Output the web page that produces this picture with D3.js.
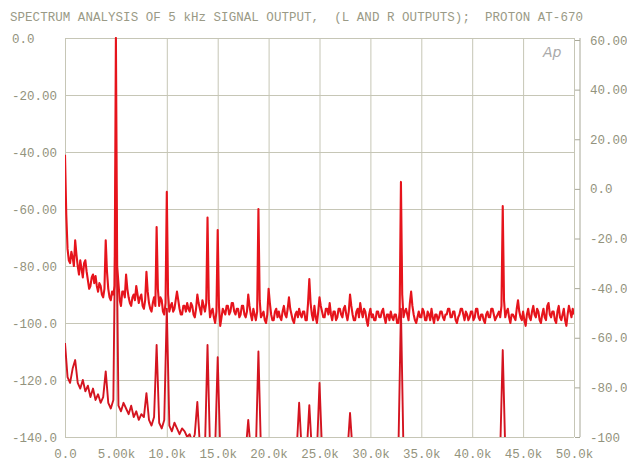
<!DOCTYPE html>
<html><head><meta charset="utf-8">
<script src="https://cdn.jsdelivr.net/npm/d3@7"></script>
<style>
body{margin:0;background:#fff;}
svg text{font-family:"Liberation Mono","DejaVu Sans Mono",monospace;white-space:pre;}
</style></head>
<body><svg id="c" width="627" height="464"></svg>
<script>
const title = "SPECTRUM ANALYSIS OF 5 kHz SIGNAL OUTPUT,  (L AND R OUTPUTS);  PROTON AT-670";
const upperStepHz = 125;
const lowerStepHz = 250;
// Upper trace (dB, left axis), 0..50 kHz every 125 Hz (one row per kHz)
const upperDb = [
 -41,-62,-74,-78,-79,-75,-77,-80,
 -71,-76,-80,-83,-78,-81,-84,-79,
 -78,-82,-85,-88,-87,-84,-83,-86,
 -83.5,-87,-89,-86,-87,-90,-91,-88,
 -71,-82,-88,-91,-92,-89,-90,-87,
 0,-80,-86,-92,-94,-89,-89,-91,
 -83,-88,-91,-93,-94,-91,-90,-92,
 -87,-90,-93,-91,-90,-94,-95,-92,
 -82,-89,-93,-95,-96,-93,-91,-94,
 -66.3,-88,-94,-91,-92,-96,-97,-93,
 -54,-90,-96,-94,-93,-96,-95,-92,
 -89,-92,-95,-97,-97,-94,-94,-96,
 -93,-95,-96,-93,-94,-97,-98,-95,
 -90,-93,-95,-97,-92,-94,-96,-93,
 -63,-92,-98,-96,-95,-98,-100,-96,
 -67.4,-94,-101,-98,-95,-96,-97,-94,
 -94,-97,-96,-93,-93,-96,-97,-95,
 -95,-98,-97,-94,-94,-97,-98,-96,
 -90,-94,-97,-99,-95,-97,-99,-96,
 -60,-92,-98,-97,-96,-99,-100,-97,
 -88,-93,-97,-99,-99,-96,-95,-98,
 -96,-98,-99,-96,-94,-97,-98,-95,
 -91,-95,-97,-99,-100,-97,-96,-98,
 -95,-97,-98,-96,-96,-99,-99,-93,
 -84.6,-93,-97,-99,-94,-98,-100,-96,
 -91,-94,-96,-98,-98,-95,-95,-97,
 -93,-97,-99,-96,-96,-99,-98,-95,
 -95,-97,-98,-95,-94,-97,-99,-96,
 -90,-94,-97,-99,-99,-96,-95,-98,
 -93,-96,-98,-95,-96,-99,-101,-97,
 -95,-98,-97,-99,-99,-96,-96,-98,
 -98,-96,-95,-98,-100,-97,-97,-99,
 -96,-98,-99,-97,-97,-100,-100,-96,
 -50.5,-90,-98,-96,-95,-97,-99,-93,
 -89,-94,-97,-99,-100,-98,-96,-98,
 -98,-95,-96,-99,-99,-96,-97,-99,
 -95,-98,-100,-97,-97,-99,-98,-96,
 -96,-98,-99,-97,-97,-95,-95,-98,
 -98,-96,-96,-99,-100,-98,-97,-95,
 -95,-97,-99,-96,-97,-99,-98,-96,
 -96,-99,-98,-95,-95,-98,-99,-97,
 -97,-99,-100,-97,-96,-98,-98,-95,
 -95,-97,-99,-98,-97,-96,-98,-94,
 -59,-92,-98,-96,-95,-98,-100,-97,
 -97,-98,-99,-95,-92,-96,-98,-99,
 -96,-99,-101,-97,-95,-98,-99,-96,
 -94,-97,-98,-95,-96,-99,-100,-97,
 -95,-98,-99,-94,-93,-97,-98,-96,
 -96,-99,-100,-96,-94,-98,-99,-97,
 -95,-99,-101,-97,-94,-96,-98,-95,
 -97
];
// Lower trace (dB, left axis), every 250 Hz; values below -140 fall outside the plot
const lowerDb = [
 -107,-119,-121,-116,  -113,-121,-123,-120,  -124,-122,-126,-123,  -127,-125,-128,-126,  -117,-128,-130,-127,
 -45,-129,-131,-128,  -130,-132,-129,-133,  -131,-134,-132,-133,  -124.6,-134,-136,-133,  -107.7,-135,-137,-134,
 -95,-136,-138,-135,  -137,-139,-137,-138,  -140,-139,-142,-139,  -127.7,-143,-145,-144,  -107.7,-145,-145,-144,
 -112,-145,-145,-145,  -145,-145,-145,-145,  -145,-145,-145,-145,  -134,-145,-145,-145,  -110,-145,-145,-145,
 -145,-145,-145,-145,  -145,-145,-145,-145,  -145,-145,-145,-145,  -128,-145,-145,-145,  -128.8,-145,-145,-145,
 -121,-145,-145,-145,  -145,-145,-145,-145,  -145,-145,-145,-145,  -131.6,-145,-145,-145,  -145,-145,-145,-145,
 -145,-145,-145,-145,  -145,-145,-145,-145,  -145,-145,-145,-145,  -95,-145,-145,-145,  -145,-145,-145,-145,
 -145,-145,-145,-145,  -145,-145,-145,-145,  -145,-145,-145,-145,  -145,-145,-145,-145,  -145,-145,-145,-145,
 -145,-145,-145,-145,  -145,-145,-145,-145,  -145,-145,-145,-145,  -109.5,-145,-145,-145,  -145,-145,-145,-145,
 -145,-145,-145,-145,  -145,-145,-145,-145,  -145,-145,-145,-145,  -145,-145,-145,-145,  -145,-145,-145,-145,
 -145
];
const xTicks = [0,5000,10000,15000,20000,25000,30000,35000,40000,45000,50000];
const xLabels = ["0.0","5.00k","10.0k","15.0k","20.0k","25.0k","30.0k","35.0k","40.0k","45.0k","50.0k"];
const leftTicks = [0,-20,-40,-60,-80,-100,-120,-140];
const leftLabels = ["0.0","-20.00","-40.00","-60.00","-80.00","-100.0","-120.0","-140.0"];
const rightTicks = [60,40,20,0,-20,-40,-60,-80,-100];
const rightLabels = ["60.00","40.00","20.00","0.0","-20.0","-40.0","-60.0","-80.0","-100"];

const svg = d3.select("#c");
const L=65, R=574, T=38, B=437, RA=580;
const x = d3.scaleLinear().domain([0,50000]).range([L,R]);
const yL = d3.scaleLinear().domain([-140,0]).range([B,T]);
const yR = d3.scaleLinear().domain([-100,60]).range([B,40]);
const txt = "#93937d", grid = "#c6c6b6";

svg.append("text").attr("x",10).attr("y",21).attr("font-size",12.5).attr("fill","#9a9a86")
  .attr("textLength",573).attr("lengthAdjust","spacing").text(title);

// grid
const gx = svg.append("g").attr("transform",`translate(0,${B})`)
  .call(d3.axisBottom(x).tickValues(xTicks).tickSize(-(B-T)).tickFormat(""));
gx.select(".domain").remove();
gx.selectAll("line").attr("stroke",grid).attr("stroke-width",1);
const gy = svg.append("g").attr("transform",`translate(${L},0)`)
  .call(d3.axisLeft(yL).tickValues(leftTicks).tickSize(-(R-L)).tickFormat(""));
gy.select(".domain").remove();
gy.selectAll("line").attr("stroke",grid).attr("stroke-width",1);

// bottom labels
const ax = svg.append("g").attr("transform",`translate(0,${B})`)
  .call(d3.axisBottom(x).tickValues(xTicks).tickSize(0).tickPadding(12).tickFormat((d,i)=>xLabels[i]));
ax.select(".domain").remove();
ax.selectAll("text").attr("font-size",12.5).attr("fill",txt).attr("font-family",null);

// left labels
const ay = svg.append("g").attr("transform",`translate(${L},0)`)
  .call(d3.axisLeft(yL).tickValues(leftTicks).tickSize(0).tickFormat((d,i)=>leftLabels[i]));
ay.select(".domain").remove();
ay.selectAll("text").attr("font-size",12.5).attr("fill",txt).attr("text-anchor","start").attr("x",12-L).attr("font-family",null);

// right axis
const ar = svg.append("g").attr("transform",`translate(${RA},0)`)
  .call(d3.axisRight(yR).tickValues(rightTicks).tickSizeInner(-5).tickSizeOuter(0).tickPadding(10).tickFormat((d,i)=>rightLabels[i]));
ar.select(".domain").attr("stroke","#a8a898").attr("d",`M0,${T}V${B}`);
ar.selectAll("line").attr("stroke","#a8a898");
ar.selectAll("text").attr("font-size",12.5).attr("fill",txt).attr("font-family",null);

// Ap logo
svg.append("text").attr("x",543).attr("y",57).attr("font-size",14).attr("font-style","italic")
  .attr("fill","#aaaaaa").style("font-family","'DejaVu Sans',sans-serif").style("font-weight",300).text("Ap");

svg.append("clipPath").attr("id","pc").append("rect").attr("x",L).attr("y",T-1).attr("width",R-L).attr("height",B-T+1);
const lineU = d3.line().x((d,i)=>x(i*upperStepHz)).y(d=>yL(d));
const lineL = d3.line().x((d,i)=>x(i*lowerStepHz)).y(d=>yL(d));
svg.append("path").datum(lowerDb).attr("clip-path","url(#pc)").attr("d",lineL)
  .attr("fill","none").attr("stroke","#d41420").attr("stroke-width",1.9).attr("stroke-linejoin","round");
svg.append("path").datum(upperDb).attr("clip-path","url(#pc)").attr("d",lineU)
  .attr("fill","none").attr("stroke","#e6141c").attr("stroke-width",2.1).attr("stroke-linejoin","round");
</script></body></html>
